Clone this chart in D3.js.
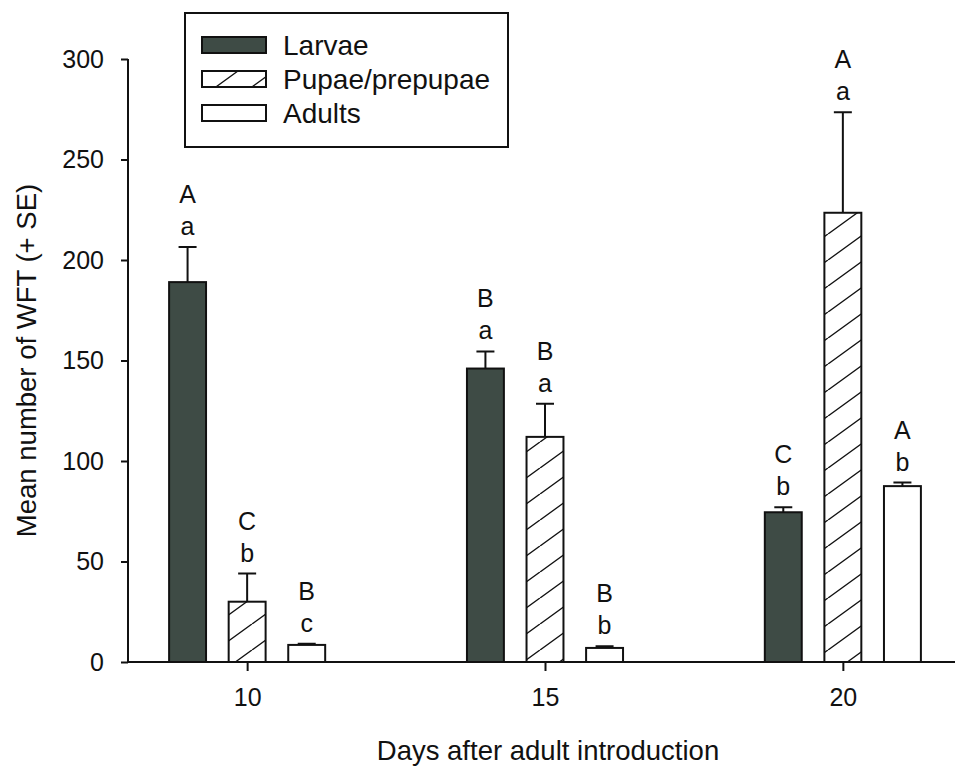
<!DOCTYPE html>
<html>
<head>
<meta charset="utf-8">
<script src="https://cdn.jsdelivr.net/npm/d3@7"></script>
<style>
    body { margin: 0; background: #fff; }
    text { font-family: "Liberation Sans", Arial, sans-serif; fill: #111; }
</style>
</head>
<body>
<div id="chart"></div>
<script>
// Bar chart of WFT stages by days after adult introduction

let days = [10, 15, 20];
let seriesNames = ["Larvae", "Pupae/prepupae", "Adults"];

let larvae = [189, 146, 74.5],
    larvaeSE = [17.5, 8.5, 2.5],
    pupae = [30, 112, 223.5],
    pupaeSE = [14, 16.5, 50],
    adults = [8.5, 7, 87.5],
    adultsSE = [0.6, 0.8, 1.8];

let upperLetters = [["A", "B", "C"], ["C", "B", "A"], ["B", "B", "A"]],
    lowerLetters = [["a", "a", "b"], ["b", "a", "a"], ["c", "b", "b"]];

let yTicks = [0, 50, 100, 150, 200, 250, 300];

let width = 955,
    height = 769,
    barWidthDays = 0.62,
    groupOffsets = [-1, 0, 1],
    capHalf = 9;

let svg = d3.select("#chart").append("svg")
    .attr("width", width)
    .attr("height", height);

// Patterns
// ---------------------------------------------------------

let defs = svg.append("defs");

defs.append("pattern")
    .attr("id", "hatch")
    .attr("patternUnits", "userSpaceOnUse")
    .attr("width", 36)
    .attr("height", 26)
    .append("path")
        .attr("d", "M0,26 L36,0 M-36,26 L0,0 M36,26 L72,0")
        .attr("stroke", "#111")
        .attr("stroke-width", 1.4);

let fills = ["#3e4b45", "url(#hatch)", "#fff"];

// Scales
// ---------------------------------------------------------

let x = d3.scaleLinear()
    .domain([8, 22])
    .range([128, 962]);

let y = d3.scaleLinear()
    .domain([0, 300])
    .range([662, 59]);

let barW = x(barWidthDays) - x(0);

// Data process
// ---------------------------------------------------------

let values = [larvae, pupae, adults],
    errors = [larvaeSE, pupaeSE, adultsSE];

let bars = [];
for (let s = 0; s < seriesNames.length; s++) {
    for (let i = 0; i < days.length; i++) {
        bars.push({
            series: s,
            day: days[i],
            value: values[s][i],
            se: errors[s][i],
            upper: upperLetters[s][i],
            lower: lowerLetters[s][i]
        });
    }
}

function barCenter(d) {
    return x(d.day + groupOffsets[d.series]);
}

// Axes
// ---------------------------------------------------------

let yAxis = svg.append("g")
    .attr("transform", `translate(${x(8)},0)`)
    .call(d3.axisLeft(y).tickValues(yTicks).tickSize(7).tickPadding(17));

let xAxis = svg.append("g")
    .attr("transform", `translate(0,${y(0)})`)
    .call(d3.axisBottom(x).tickValues(days).tickSize(9).tickPadding(17));

[yAxis, xAxis].forEach(ax => {
    ax.select(".domain").attr("stroke", "#111").attr("stroke-width", 2);
    ax.selectAll(".tick line").attr("stroke", "#111").attr("stroke-width", 2);
    ax.selectAll(".tick text")
        .attr("font-size", 25)
        .attr("font-family", "Liberation Sans, Arial, sans-serif")
        .attr("fill", "#111");
});

// remove outer ticks from domain path
yAxis.select(".domain").attr("d", `M0,${y(300)}V${y(0)}`);
xAxis.select(".domain").attr("d", `M${x(8)},0H${x(22)}`);

svg.append("text")
    .attr("transform", `translate(26,${(y(0) + y(300)) / 2}) rotate(-90)`)
    .attr("text-anchor", "middle")
    .attr("dominant-baseline", "central")
    .attr("font-size", 27.5)
    .text("Mean number of WFT (+ SE)");

svg.append("text")
    .attr("x", 548)
    .attr("y", 760)
    .attr("text-anchor", "middle")
    .attr("font-size", 27.5)
    .text("Days after adult introduction");

// Bars
// ---------------------------------------------------------

let barG = svg.append("g");

barG.selectAll(".bar")
    .data(bars)
    .enter()
    .append("rect")
        .attr("class", "bar")
        .attr("x", d => barCenter(d) - barW / 2)
        .attr("y", d => y(d.value))
        .attr("width", barW)
        .attr("height", d => y(0) - y(d.value))
        .attr("fill", d => fills[d.series])
        .attr("stroke", "#111")
        .attr("stroke-width", 2);

// Error bars
// ---------------------------------------------------------

barG.selectAll(".errLine")
    .data(bars)
    .enter()
    .append("path")
        .attr("class", "errLine")
        .attr("d", d => {
            let cx = barCenter(d), top = y(d.value + d.se);
            return `M${cx},${y(d.value)}V${top}M${cx - capHalf},${top}H${cx + capHalf}`;
        })
        .attr("stroke", "#111")
        .attr("stroke-width", 2)
        .attr("fill", "none");

// Letters
// ---------------------------------------------------------

barG.selectAll(".lowerLetter")
    .data(bars)
    .enter()
    .append("text")
        .attr("class", "lowerLetter")
        .attr("x", d => barCenter(d))
        .attr("y", d => y(d.value + d.se) - 12)
        .attr("text-anchor", "middle")
        .attr("font-size", 25)
        .text(d => d.lower);

barG.selectAll(".upperLetter")
    .data(bars)
    .enter()
    .append("text")
        .attr("class", "upperLetter")
        .attr("x", d => barCenter(d))
        .attr("y", d => y(d.value + d.se) - 44)
        .attr("text-anchor", "middle")
        .attr("font-size", 25)
        .text(d => d.upper);

// Legend
// ---------------------------------------------------------

let legend = svg.append("g")
    .attr("transform", "translate(185,13)");

legend.append("rect")
    .attr("width", 323)
    .attr("height", 134)
    .attr("fill", "#fff")
    .attr("stroke", "#111")
    .attr("stroke-width", 2);

let legendItem = legend.selectAll(".legendItem")
    .data(seriesNames)
    .enter()
    .append("g")
        .attr("class", "legendItem")
        .attr("transform", (d, i) => `translate(17,${24 + i * 34})`);

legendItem.append("rect")
    .attr("width", 64)
    .attr("height", 16)
    .attr("fill", (d, i) => fills[i])
    .attr("stroke", "#111")
    .attr("stroke-width", 2);

legendItem.append("text")
    .attr("x", 81)
    .attr("y", 18)
    .attr("font-size", 28)
    .text(d => d);
</script>
</body>
</html>
